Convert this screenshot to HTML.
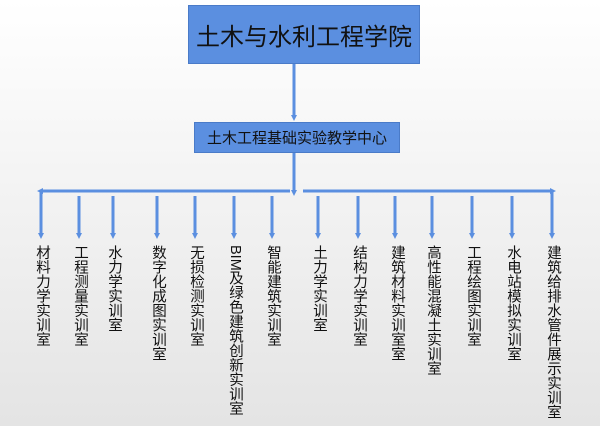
<!DOCTYPE html>
<html><head><meta charset="utf-8"><style>
html,body{margin:0;padding:0}
body{width:600px;height:426px;position:relative;overflow:hidden;background:linear-gradient(#ffffff,#e4e4e4);font-family:"Liberation Sans","Noto Sans CJK SC",sans-serif;}
.box{position:absolute;background:#5b8fe0;border:1px solid #4a7bc8;box-sizing:border-box;display:flex;align-items:center;justify-content:center;color:#111;}
.v{position:absolute;top:245px;writing-mode:vertical-rl;font-size:14.5px;line-height:16px;color:#111;width:16px;text-align:left;}
svg{position:absolute;left:0;top:0}
</style></head><body>
<svg width="600" height="426">
<defs><marker id="a" markerWidth="6" markerHeight="6" refX="3" refY="3" orient="auto" markerUnits="userSpaceOnUse"><path d="M0,0 L6,3 L0,6 z" fill="#5b8fe0"/></marker></defs>
<g stroke="#5b8fe0" stroke-width="3" fill="none">
<line x1="294" y1="64" x2="294" y2="118" marker-end="url(#a)"/>
<line x1="294" y1="153" x2="294" y2="193" marker-end="url(#a)"/>
<line x1="290" y1="191" x2="40" y2="191" marker-end="url(#a)"/>
<line x1="303" y1="191" x2="553" y2="191" marker-end="url(#a)"/>
<line x1="41" y1="191" x2="41" y2="236" marker-end="url(#a)"/>
<line x1="79" y1="196" x2="79" y2="236" marker-end="url(#a)"/>
<line x1="113" y1="196" x2="113" y2="236" marker-end="url(#a)"/>
<line x1="157" y1="196" x2="157" y2="236" marker-end="url(#a)"/>
<line x1="195" y1="196" x2="195" y2="236" marker-end="url(#a)"/>
<line x1="234" y1="196" x2="234" y2="236" marker-end="url(#a)"/>
<line x1="272" y1="196" x2="272" y2="236" marker-end="url(#a)"/>
<line x1="318" y1="196" x2="318" y2="236" marker-end="url(#a)"/>
<line x1="358" y1="196" x2="358" y2="236" marker-end="url(#a)"/>
<line x1="395" y1="196" x2="395" y2="236" marker-end="url(#a)"/>
<line x1="432" y1="196" x2="432" y2="236" marker-end="url(#a)"/>
<line x1="472" y1="196" x2="472" y2="236" marker-end="url(#a)"/>
<line x1="512" y1="196" x2="512" y2="236" marker-end="url(#a)"/>
<line x1="552" y1="191" x2="552" y2="236" marker-end="url(#a)"/>
</g></svg>
<div class="box" style="left:188px;top:5px;width:232px;height:59px;font-size:24px;">土木与水利工程学院</div>
<div class="box" style="left:194px;top:122px;width:206px;height:31px;font-size:15px;">土木工程基础实验教学中心</div>
<div class="v" style="left:34px">材料力学实训室</div>
<div class="v" style="left:72px">工程测量实训室</div>
<div class="v" style="left:106px">水力学实训室</div>
<div class="v" style="left:150px">数字化成图实训室</div>
<div class="v" style="left:188px">无损检测实训室</div>
<div class="v" style="left:227px">BIM及绿色建筑创新实训室</div>
<div class="v" style="left:265px">智能建筑实训室</div>
<div class="v" style="left:311px">土力学实训室</div>
<div class="v" style="left:351px">结构力学实训室</div>
<div class="v" style="left:389px">建筑材料实训室室</div>
<div class="v" style="left:425px">高性能混凝土实训室</div>
<div class="v" style="left:465px">工程绘图实训室</div>
<div class="v" style="left:505px">水电站模拟实训室</div>
<div class="v" style="left:545px">建筑给排水管件展示实训室</div>
</body></html>
